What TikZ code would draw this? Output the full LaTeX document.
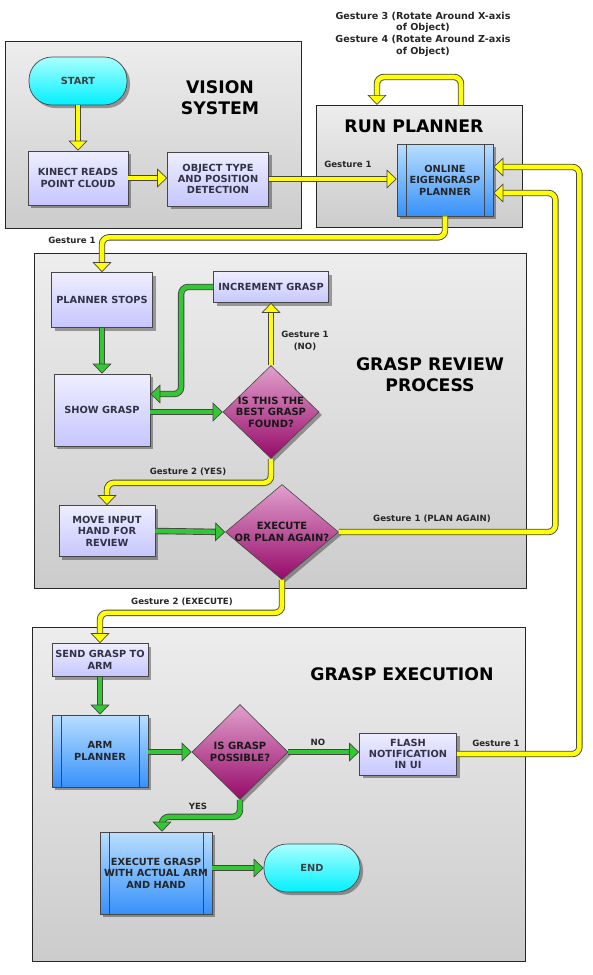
\documentclass[tikz,border=0pt]{standalone}
\usepackage{fontspec}
\setmainfont{DejaVu Sans}
\usetikzlibrary{shapes.geometric,shadows,arrows.meta,calc}
\definecolor{yel}{RGB}{255,255,0}
\definecolor{grn}{RGB}{51,200,51}
\definecolor{edge}{RGB}{70,70,70}
\definecolor{boxtop}{RGB}{238,238,255}
\definecolor{boxbot}{RGB}{198,198,255}
\definecolor{bluetop}{RGB}{185,222,255}
\definecolor{bluebot}{RGB}{55,145,250}
\definecolor{dtop}{RGB}{225,160,205}
\definecolor{dbot}{RGB}{150,10,105}
\definecolor{ctop}{RGB}{170,255,255}
\definecolor{cbot}{RGB}{0,240,255}
\definecolor{ptop}{RGB}{237,237,237}
\definecolor{pbot}{RGB}{204,204,204}
\definecolor{btext}{RGB}{50,50,70}
\newcommand\myboxfont{\fontsize{9.8}{11.4}\selectfont\bfseries}
\newcommand\mydecfont{\fontsize{10}{11.5}\selectfont\bfseries}
\newcommand\mylblfont{\fontsize{8.6}{11.6}\selectfont\bfseries}
\newcommand\mybiglblfont{\fontsize{9.6}{11.7}\selectfont\bfseries}
\newcommand\mytitlefont{\fontsize{17.3}{20.7}\selectfont\bfseries}
\tikzset{
 shad/.style={drop shadow={shadow xshift=3pt,shadow yshift=-3pt,fill=black,opacity=0.35}},
 panel/.style={draw=black!85, line width=0.8pt, top color=ptop, bottom color=pbot, inner sep=0pt, outer sep=0pt},
 procbox/.style={shad, draw=edge, line width=0.7pt, top color=boxtop, bottom color=boxbot, align=center, font=\myboxfont, text=btext, inner sep=1pt},
 predef/.style={procbox, top color=bluetop, bottom color=bluebot, text=black!85,
   path picture={
     \draw[edge,line width=0.6pt] ([xshift=9pt]path picture bounding box.north west) -- ([xshift=9pt]path picture bounding box.south west);
     \draw[edge,line width=0.6pt] ([xshift=-9pt]path picture bounding box.north east) -- ([xshift=-9pt]path picture bounding box.south east);}},
 terminal/.style={shad, draw=edge, line width=0.7pt, top color=ctop, bottom color=cbot, rounded corners=23pt, font=\myboxfont, text=black!75, align=center},
 decision/.style={shad, diamond, aspect=1, draw=edge, line width=0.6pt, top color=dtop, bottom color=dbot, inner sep=-22pt, align=center, font=\mydecfont, text=black!90},
 titletext/.style={align=center, font=\mytitlefont, text=black},
 lbl/.style={align=center, font=\mylblfont, text=black!85, inner sep=1pt},
 yarr/.style={draw=yel, line width=4.6pt, rounded corners=7pt,
   -{Triangle[width=19pt,length=10pt,fill=yel,color=edge,line width=0.7pt]},
   preaction={draw=edge, line width=6.4pt, arrows=-, shorten >=7pt}},
 garr/.style={draw=grn, line width=4.6pt, rounded corners=7pt,
   -{Triangle[width=19pt,length=10pt,fill=grn,color=edge,line width=0.7pt]},
   preaction={draw=edge, line width=6.4pt, arrows=-, shorten >=7pt}},
}
\begin{document}
\begin{tikzpicture}[x=1pt,y=-1pt]
\useasboundingbox (0,0) rectangle (592,975);
% panels
\node[panel, minimum width=296pt, minimum height=187pt] (visp) at (153,134.5) {};
\node[panel, minimum width=206pt, minimum height=122pt] (runp) at (419,166) {};
\node[panel, minimum width=492pt, minimum height=335pt] (revp) at (280,420.5) {};
\node[panel, minimum width=493pt, minimum height=334pt] (exep) at (278.5,794) {};
% titles
\node[titletext] (tvis) at (220,98) {VISION\\SYSTEM};
\node[titletext] (trun) at (414,126) {RUN PLANNER};
\node[titletext] (trev) at (430,375) {GRASP REVIEW\\PROCESS};
\node[titletext] (texe) at (402,674) {GRASP EXECUTION};
% vision
\node[terminal, minimum width=98pt, minimum height=48pt] (start) at (78,81) {START};
\node[procbox, minimum width=100pt, minimum height=54pt] (kinect) at (78,178) {KINECT READS\\POINT CLOUD};
\node[procbox, minimum width=101pt, minimum height=54pt] (objdet) at (218,179) {OBJECT TYPE\\AND POSITION\\DETECTION};
% run planner
\node[predef, minimum width=96pt, minimum height=72pt] (online) at (445,180) {ONLINE\\EIGENGRASP\\PLANNER};
% review
\node[procbox, minimum width=101pt, minimum height=55pt] (pstops) at (102,300) {PLANNER STOPS};
\node[procbox, minimum width=96pt, minimum height=72pt] (showg) at (102,410) {SHOW GRASP};
\node[procbox, minimum width=115pt, minimum height=31pt] (incr) at (271,287) {INCREMENT GRASP};
\node[decision, minimum width=96pt, minimum height=93pt] (best) at (271,412) {IS THIS THE\\BEST GRASP\\FOUND?};
\node[procbox, minimum width=96pt, minimum height=51pt] (movein) at (107,531) {MOVE INPUT\\HAND FOR\\REVIEW};
\node[decision, minimum width=113pt, minimum height=95pt] (execplan) at (282,532) {EXECUTE\\OR PLAN AGAIN?};
% execution
\node[procbox, minimum width=96pt, minimum height=33pt] (sendg) at (100,660) {SEND GRASP TO\\ARM};
\node[predef, minimum width=96pt, minimum height=72pt] (armpl) at (100,751) {ARM\\PLANNER};
\node[decision, minimum width=96pt, minimum height=95pt] (possible) at (240,752) {IS GRASP\\POSSIBLE?};
\node[procbox, minimum width=97pt, minimum height=42pt] (flash) at (408,754) {FLASH\\NOTIFICATION\\IN UI};
\node[predef, minimum width=112pt, minimum height=82pt] (execg) at (156,873) {EXECUTE GRASP\\WITH ACTUAL ARM\\AND HAND};
\node[terminal, minimum width=96pt, minimum height=48pt] (endn) at (312,868) {END};
% coordinates for the self loop
\coordinate (loopS) at (461,105);
\coordinate (loopE) at (377,105);
% connectors
\draw[yarr] (start.south) -- (kinect.north);
\draw[yarr] (kinect.east) -- (kinect.east -| objdet.west);
\draw[yarr] (objdet.east) -- (objdet.east -| online.west);
\draw[yarr] (loopS) -- ++(0,-28) -| (loopE);
\draw[yarr] (online.south) -- ++(0,21) -| (pstops.north);
\draw[garr] (pstops.south) -- (showg.north);
\draw[garr] (showg.east |- best.west) -- (best.west);
\draw[garr] (incr.west) -- ++(-32,0) |- ([yshift=16pt]showg.east);
\draw[yarr] (best.north) -- (incr.south);
\draw[yarr] (best.south) -- ++(0,24) -| (movein.north);
\draw[garr] (movein.east) -- (execplan.west);
\draw[yarr] (execplan.east) -| ($(online.east)+(62,13)$) -- ([yshift=-13pt]online.east);
\draw[yarr] (execplan.south) -- ++(0,33) -| (sendg.north);
\draw[garr] (sendg.south) -- (armpl.north);
\draw[garr] (armpl.east |- possible.west) -- (possible.west);
\draw[garr] (possible.east) -- (possible.east -| flash.west);
\draw[yarr] (flash.east) -| ($(online.east)+(86,-13)$) -- ([yshift=13pt]online.east);
\draw[garr] (possible.south) -- ++(0,17) -| ([xshift=6pt]execg.north);
\draw[garr] (execg.east |- endn.west) -- (endn.west);
% labels
\node[lbl, font=\mybiglblfont] (l34) at (423,34) {Gesture 3 (Rotate Around X-axis\\of Object)\\Gesture 4 (Rotate Around Z-axis\\of Object)};
\node[lbl] (lg1a) at (348,164) {Gesture 1};
\node[lbl] (lg1b) at (72,240) {Gesture 1};
\node[lbl] (lno) at (305,341) {Gesture 1\\(NO)};
\node[lbl] (lyes) at (188,472) {Gesture 2 (YES)};
\node[lbl] (lplan) at (432,519) {Gesture 1 (PLAN AGAIN)};
\node[lbl] (lexec) at (182,602) {Gesture 2 (EXECUTE)};
\node[lbl] (lno2) at (318,742) {NO};
\node[lbl] (lg1c) at (496,743) {Gesture 1};
\node[lbl] (lyes2) at (198,806) {YES};
\end{tikzpicture}
\end{document}
